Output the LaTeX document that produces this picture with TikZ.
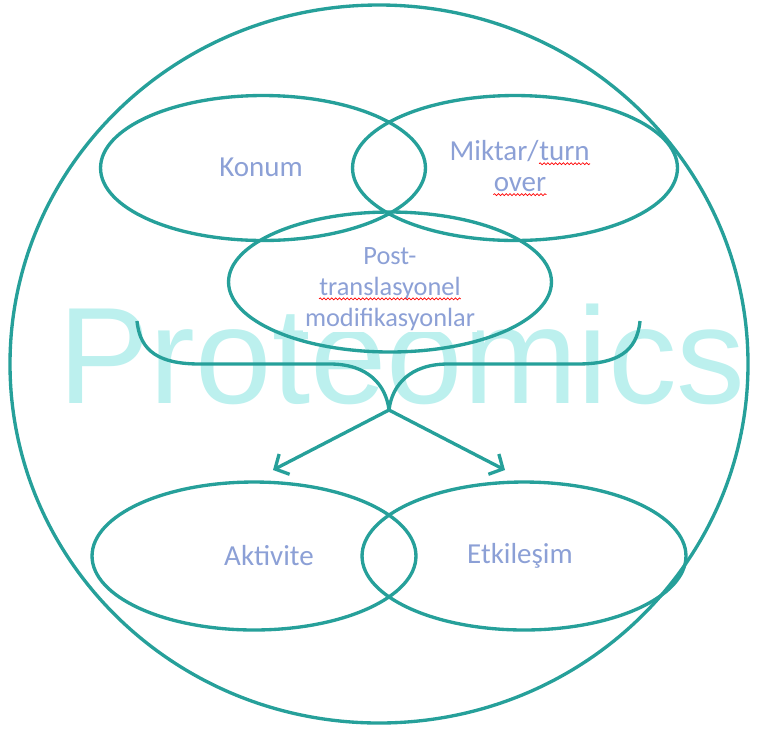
\documentclass[tikz,border=0pt]{standalone}
\usepackage{fontspec}
\setmainfont{Carlito}
\newfontfamily\markfont{Liberation Sans}
\usetikzlibrary{arrows.meta,shapes.geometric,decorations.pathmorphing}

\definecolor{ringteal}{RGB}{38,160,154}
\definecolor{tagblue}{RGB}{140,160,214}
\definecolor{markcyan}{RGB}{188,240,238}

% red wavy spell-check underline
\newcommand\spellwave[1]{\tikz[baseline=(w.base)]{%
    \node[inner sep=0pt] (w) {#1};
    \draw[red, line width=0.4pt, decorate,
          decoration={snake, amplitude=0.55pt, segment length=2.2pt}]
        ([yshift=-2pt]w.base west) -- ([yshift=-2pt]w.base east);}}

\begin{document}
\begin{tikzpicture}[x=0.02cm, y=-0.02cm, >={Straight Barb[length=6pt,width=13pt]},
    ring/.style={draw=ringteal, line width=1.9pt},
    oval/.style={ring, ellipse, inner sep=0pt, minimum width=6.5cm, minimum height=2.9cm},
    tag/.style={text=tagblue, font=\fontsize{16.5}{17.6}\selectfont, align=center, inner sep=1pt}]
    \useasboundingbox (0,0) rectangle (760,731);

    % Watermark
    \node[text=markcyan, font=\markfont\fontsize{78.2}{78.2}\selectfont,
          anchor=base west, inner sep=0pt] (mark) at (58,403) {Proteomics};

    % Outer circle
    \draw[ring] (379,364) ellipse [x radius=369, y radius=359];

    % Labels
    \node[tag] (t-konum) at (261,167) {Konum};
    \node[tag] (t-miktar) at (520,168) {Miktar/\spellwave{turn}\\\spellwave{over}};
    \node[tag, fill=white, font=\fontsize{15}{17.6}\selectfont] (t-post) at (390,289)
        {Post-\\\spellwave{translasyonel}\\modifikasyonlar};
    \node[tag] (t-aktivite) at (269,556) {Aktivite};
    \node[tag] (t-etki) at (520,556) {Etkileşim};

    % Top ovals
    \node[oval] (konum) at (263,168) {};
    \node[oval] (miktar) at (515,168) {};
    \node[oval, minimum width=6.46cm, minimum height=2.8cm] (post) at (390,282) {};

    % Bottom ovals
    \node[oval, minimum width=6.48cm, minimum height=2.96cm] (aktivite) at (254,556) {};
    \node[oval, minimum width=6.48cm, minimum height=2.96cm] (etki) at (524,556) {};

    % Brace
    \coordinate (fork) at (389,410);
    \draw[ring] (137,321) .. controls (140,352) and (160,364) .. (200,364)
        -- (330,364) .. controls (368,364) and (386,385) .. (fork);
    \draw[ring] (640,321) .. controls (637,352) and (617,364) .. (577,364)
        -- (448,364) .. controls (410,364) and (392,385) .. (fork);

    % Arrows
    \coordinate (head-a) at (273,470);
    \coordinate (head-e) at (505,470);
    \draw[ring, ->] (fork) -- (head-a);
    \draw[ring, ->] (fork) -- (head-e);
\end{tikzpicture}
\end{document}
